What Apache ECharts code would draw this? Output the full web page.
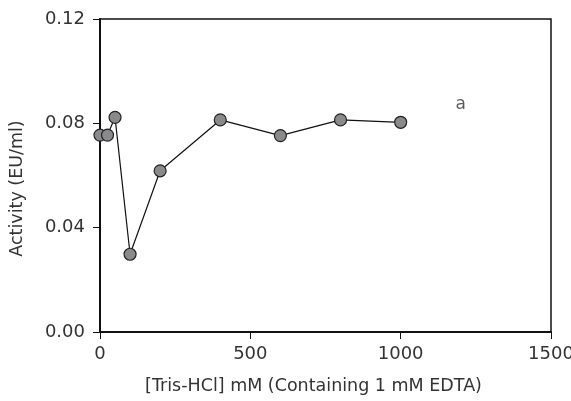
<!DOCTYPE html>
<html>
<head>
<meta charset="utf-8">
<script src="https://cdn.jsdelivr.net/npm/echarts@6/dist/echarts.min.js"></script>
<style>
  html, body { margin: 0; padding: 0; background: #fff; }
  #chart { width: 571px; height: 401px; }
</style>
</head>
<body>
<div id="chart"></div>
<script>
  // Tris-HCl concentration (mM) and activity (EU/ml)
  var conc = [0, 25, 50, 100, 200, 400, 600, 800, 1000];
  var activity = [0.0755, 0.0755, 0.0823, 0.0298, 0.0618, 0.0813, 0.0753, 0.0813, 0.0804];
  var xTicks = [0, 500, 1000, 1500];
  var yTicks = [0, 0.04, 0.08, 0.12];
  var panelLabel = [[1200, 0.087, 'a']];

  var font = 'DejaVu Sans';
  var myChart = echarts.init(document.getElementById('chart'));
  var option = {
    backgroundColor: '#fff',
    animation: false,
    grid: {
      left: 100, right: 20, top: 19, bottom: 69,
      outerBoundsMode: 'none',
      containLabel: false,
      show: true, borderColor: '#111', borderWidth: 1.5, backgroundColor: 'transparent'
    },
    xAxis: {
      type: 'value',
      min: xTicks[0], max: xTicks[xTicks.length - 1], interval: 500,
      name: '[Tris-HCl] mM (Containing 1 mM EDTA)',
      nameLocation: 'middle', nameGap: 45,
      nameTextStyle: { fontFamily: font, fontSize: 17.5, color: '#333', padding: [0, 24, 0, 0] },
      axisLine: { lineStyle: { color: '#111', width: 2 } },
      axisTick: { show: true, inside: false, length: 7, lineStyle: { color: '#111', width: 1 } },
      axisLabel: {
        fontFamily: font, fontSize: 18, color: '#333', margin: 13,
        formatter: function (v) { return String(v); }
      },
      splitLine: { show: false }
    },
    yAxis: {
      type: 'value',
      min: yTicks[0], max: yTicks[yTicks.length - 1], interval: 0.04,
      name: 'Activity (EU/ml)',
      nameLocation: 'middle', nameGap: 74,
      nameTextStyle: { fontFamily: font, fontSize: 17.5, color: '#333', padding: [0, 26, 0, 0] },
      axisLine: { lineStyle: { color: '#111', width: 2 } },
      axisTick: { show: true, inside: false, length: 7, lineStyle: { color: '#111', width: 1 } },
      axisLabel: {
        fontFamily: font, fontSize: 18, color: '#333', margin: 15,
        formatter: function (v) { return v.toFixed(2); }
      },
      splitLine: { show: false }
    },
    series: [{
      type: 'line',
      data: conc.map(function (c, i) { return [c, activity[i]]; }),
      symbol: 'circle',
      symbolSize: 12,
      lineStyle: { color: '#111', width: 1.2 },
      itemStyle: { color: '#8a8a8c', borderColor: '#222', borderWidth: 1.2 },
      z: 3
    }, {
      type: 'scatter',
      data: panelLabel,
      symbolSize: 0,
      label: {
        show: true, position: 'inside',
        formatter: function (p) { return p.data[2]; },
        fontFamily: font, fontSize: 17, color: '#333'
      }
    }]
  };
  myChart.setOption(option);
</script>
</body>
</html>
